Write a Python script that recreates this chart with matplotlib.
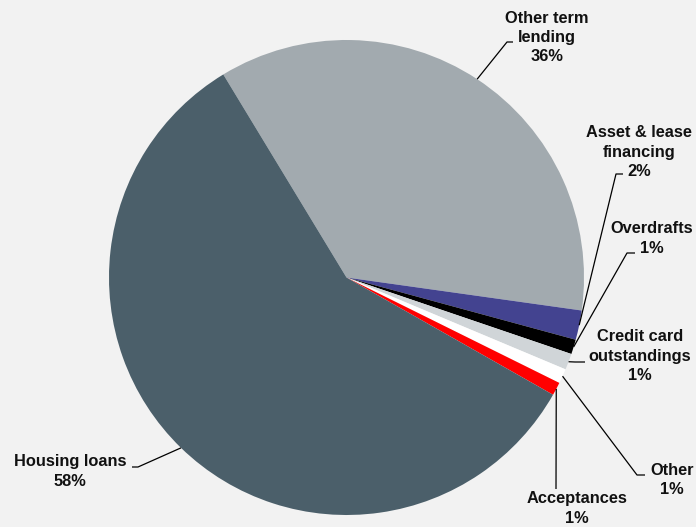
import numpy as np
import matplotlib.pyplot as plt

# Loan portfolio composition (percent), clockwise from the top
categories = ["Other term\nlending", "Asset & lease\nfinancing", "Overdrafts",
              "Credit card\noutstandings", "Other", "Acceptances", "Housing loans"]
shares = [35.9, 2.0, 1.0, 1.1, 1.0, 0.9, 58.1]
colors = ["#a2aaaf", "#434390", "#000000", "#d0d5d8", "#ffffff", "#ff0000", "#4b5f6a"]

W, H = 696, 527
BG = "#f2f2f2"

# label layout in pixel coords (y down): text centre, elbow, line end
LAYOUT = [
    ((547, 37.5), (507, 42), (513, 42)),
    ((639, 152), (616, 174), (623, 174)),
    ((652, 238.5), (627, 253), (635, 253)),
    ((640, 356), (575, 362), (585, 362)),
    ((672, 480), (637, 475), (645, 475)),
    ((577, 508.5), (556, 489), (556, 489)),
    ((70, 471.5), (138, 467), (132, 467)),
]

CENTER = (346.5, H - 277.5)
RADIUS = 237.5
START = 121.25

plt.rcParams['font.family'] = ['Liberation Sans', 'DejaVu Sans']

fig = plt.figure(figsize=(W / 100, H / 100), dpi=100, facecolor=BG)
ax = fig.add_axes([0, 0, 1, 1])
ax.set_facecolor(BG)

wedges, _ = ax.pie(shares, colors=colors, startangle=START, counterclock=False,
                   center=CENTER, radius=RADIUS, frame=True,
                   wedgeprops=dict(linewidth=0))
ax.set_xlim(0, W)
ax.set_ylim(0, H)
ax.set_aspect('equal')
ax.axis('off')

for w, name, val, (txt, elbow, end) in zip(wedges, categories, shares, LAYOUT):
    mid = np.deg2rad((w.theta1 + w.theta2) / 2)
    ex = CENTER[0] + RADIUS * np.cos(mid)
    ey = CENTER[1] + RADIUS * np.sin(mid)
    xs = [ex, elbow[0], end[0]]
    ys = [ey, H - elbow[1], H - end[1]]
    ax.plot(xs, ys, color="black", lw=0.9, solid_capstyle='butt')
    ax.text(txt[0], H - txt[1], f"{name}\n{val:.0f}%", ha="center", va="center",
            fontsize=11.8, fontweight="bold", linespacing=1.35, color="#111111")

fig.savefig("out.png", dpi=100, facecolor=BG)
